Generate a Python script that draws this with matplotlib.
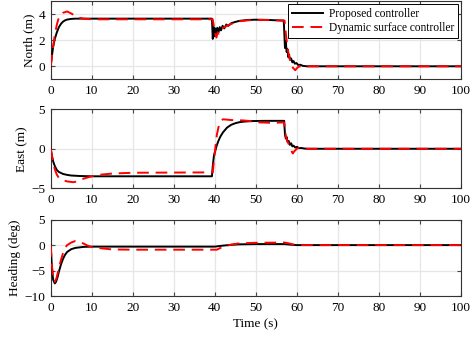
import numpy as np
import matplotlib
matplotlib.use("Agg")
import matplotlib.pyplot as plt

# Time samples and responses for the three channels (proposed vs. dynamic surface controller)
t_north_prop = [0, 0.3, 0.6, 1, 1.5, 2, 2.5, 3, 3.5, 4, 5, 6, 8, 39.3,
                39.5, 39.7, 39.9, 40.1, 40.3, 40.6, 40.9, 41.2, 41.5, 41.9, 42.3, 42.8,
                43.3, 44, 45, 46, 48, 50, 53, 56.8,
                57.1, 57.3, 57.5, 57.7, 57.9, 58.1, 58.3, 58.6, 58.9, 59.2, 59.5, 59.9,
                60.3, 60.8, 61.5, 62.5, 100]
north_prop = [0, 0.8, 1.5, 2.1, 2.6, 3.0, 3.25, 3.42, 3.52, 3.58, 3.63, 3.65, 3.65, 3.65,
              2.1, 3.0, 2.3, 2.9, 2.5, 2.95, 2.6, 3.0, 2.75, 3.1, 2.9, 3.2,
              3.1, 3.3, 3.4, 3.48, 3.55, 3.57, 3.55, 3.5,
              1.4, 1.9, 1.1, 1.3, 0.7, 0.9, 0.5, 0.6, 0.3, 0.4, 0.2, 0.25,
              0.1, 0.12, 0.03, 0.0, 0.0]

t_north_dsc = [0, 0.5, 1, 1.5, 2, 3, 4, 5, 6, 7, 8, 10, 39.5,
               39.8, 40.1, 40.4, 40.7, 41, 41.5, 42, 43, 44, 45, 46, 48, 50, 53, 57,
               57.3, 57.7, 58, 58.5, 59, 59.6, 60, 60.5, 61, 62, 100]
north_dsc = [0, 1.3, 2.4, 3.2, 3.75, 4.1, 4.2, 4.05, 3.85, 3.72, 3.65, 3.6, 3.6,
             3.0, 2.5, 2.2, 2.6, 2.5, 2.9, 2.95, 3.1, 3.25, 3.35, 3.45, 3.52, 3.55, 3.55, 3.5,
             2.5, 1.5, 0.9, 0.3, -0.1, -0.3, -0.15, 0.0, -0.05, 0, 0]

t_east_prop = [0, 0.3, 0.6, 1, 1.5, 2, 3, 4, 5, 7, 10, 39.3,
               39.5, 39.8, 40.1, 40.4, 40.8, 41.3, 42, 43, 44, 45, 46, 47, 49, 52, 56.9,
               57.1, 57.3, 57.5, 57.7, 58, 58.3, 58.6, 58.9, 59.2, 59.6, 60, 60.5, 61,
               62, 63, 100]
east_prop = [0, -0.9, -1.6, -2.2, -2.7, -2.95, -3.2, -3.32, -3.4, -3.46, -3.5, -3.5,
             -2.2, -0.8, -0.3, 0.3, 0.9, 1.5, 2.1, 2.7, 3.05, 3.25, 3.38, 3.45, 3.52, 3.55, 3.55,
             1.8, 1.3, 1.5, 0.9, 1.0, 0.5, 0.7, 0.3, 0.4, 0.15, 0.25, 0.08, 0.1,
             0.02, 0, 0]

t_east_dsc = [0, 0.5, 1, 1.5, 2, 3, 4, 5.5, 6.5, 8, 10, 12, 15, 20, 39.5,
              39.8, 40.1, 40.5, 41, 41.5, 42, 43, 44, 47, 49, 51, 54, 56.9,
              57.2, 57.5, 58, 58.5, 59, 59.4, 60, 60.5, 61, 100]
east_dsc = [0, -1.5, -2.6, -3.3, -3.7, -4.0, -4.15, -4.25, -4.15, -3.8, -3.5, -3.3, -3.15, -3.05, -3.0,
            -1.5, 0.0, 1.8, 3.0, 3.6, 3.75, 3.7, 3.65, 3.6, 3.5, 3.35, 3.3, 3.35,
            2.0, 1.2, 0.6, -0.1, -0.6, -0.3, 0.0, 0.1, 0, 0]

t_head_prop = [0, 0.3, 0.6, 1.0, 1.3, 1.7, 2, 2.5, 3, 3.5, 4, 5, 6, 8, 10, 40,
               42, 44, 46, 50, 57, 59, 60, 100]
head_prop = [0, -4.5, -6.8, -7.5, -7.2, -6.2, -5.2, -3.8, -2.7, -1.9, -1.35, -0.8, -0.55, -0.35, -0.3, -0.3,
             -0.1, 0.05, 0.15, 0.2, 0.2, 0.05, 0.0, 0]

t_head_dsc = [0, 0.3, 0.6, 1.0, 1.4, 2, 2.5, 3, 3.5, 4, 5, 6, 7, 8, 9, 10, 12, 15, 20, 40.5,
              42, 44, 46, 50, 57, 58, 59.5, 61, 100]
head_dsc = [0, -4.0, -6.3, -7.2, -6.5, -4.5, -2.9, -1.6, -0.6, 0.0, 0.5, 0.8, 0.7, 0.3, -0.1, -0.4,
            -0.6, -0.85, -0.9, -0.9, -0.3, 0.1, 0.35, 0.45, 0.5, 0.35, 0.05, 0, 0]

ylabels = ["North (m)", "East (m)", "Heading (deg)"]
ylims = [(-1, 5), (-5, 5), (-10, 5)]
yticks = [[0, 2, 4], [-5, 0, 5], [-10, -5, 0, 5]]

plt.rcParams["font.family"] = ["Liberation Serif", "DejaVu Serif"]
plt.rcParams["font.size"] = 9.5

fig = plt.figure(figsize=(4.76, 3.42), dpi=100)
left, width = 0.1065, 0.862
boxes = [(0.768, 0.229), (0.450, 0.230), (0.134, 0.224)]
series = [
    (t_north_prop, north_prop, t_north_dsc, north_dsc),
    (t_east_prop, east_prop, t_east_dsc, east_dsc),
    (t_head_prop, head_prop, t_head_dsc, head_dsc),
]

axes = []
for i, (bottom, height) in enumerate(boxes):
    ax = fig.add_axes([left, bottom, width, height])
    tp, yp, td, yd = series[i]
    ax.plot(tp, yp, color="black", lw=1.4, label="Proposed controller", zorder=3)
    ax.plot(td, yd, color="red", lw=1.4, ls=(0, (6, 3.5)),
            label="Dynamic surface controller", zorder=4)
    ax.set_xlim(0, 100)
    ax.set_ylim(*ylims[i])
    ax.set_xticks(np.arange(0, 101, 10))
    ax.set_yticks(yticks[i])
    ax.set_ylabel(ylabels[i], labelpad=2)
    ax.grid(True, color="#e6e6e6", lw=0.9)
    ax.set_axisbelow(True)
    ax.tick_params(direction="in", top=True, right=True, length=3, width=0.8,
                   color="#444444", pad=4)
    for sp in ax.spines.values():
        sp.set_color("#333333")
        sp.set_linewidth(0.8)
    axes.append(ax)

axes[2].set_xlabel("Time (s)", labelpad=3)
leg = axes[0].legend(loc="upper right", fontsize=8.3, frameon=True, fancybox=False,
                     edgecolor="black", framealpha=1, handlelength=2.7,
                     borderpad=0.3, labelspacing=0.2, handletextpad=0.5,
                     borderaxespad=0.3)
leg.get_frame().set_linewidth(0.7)

fig.savefig("out.png", dpi=100)
